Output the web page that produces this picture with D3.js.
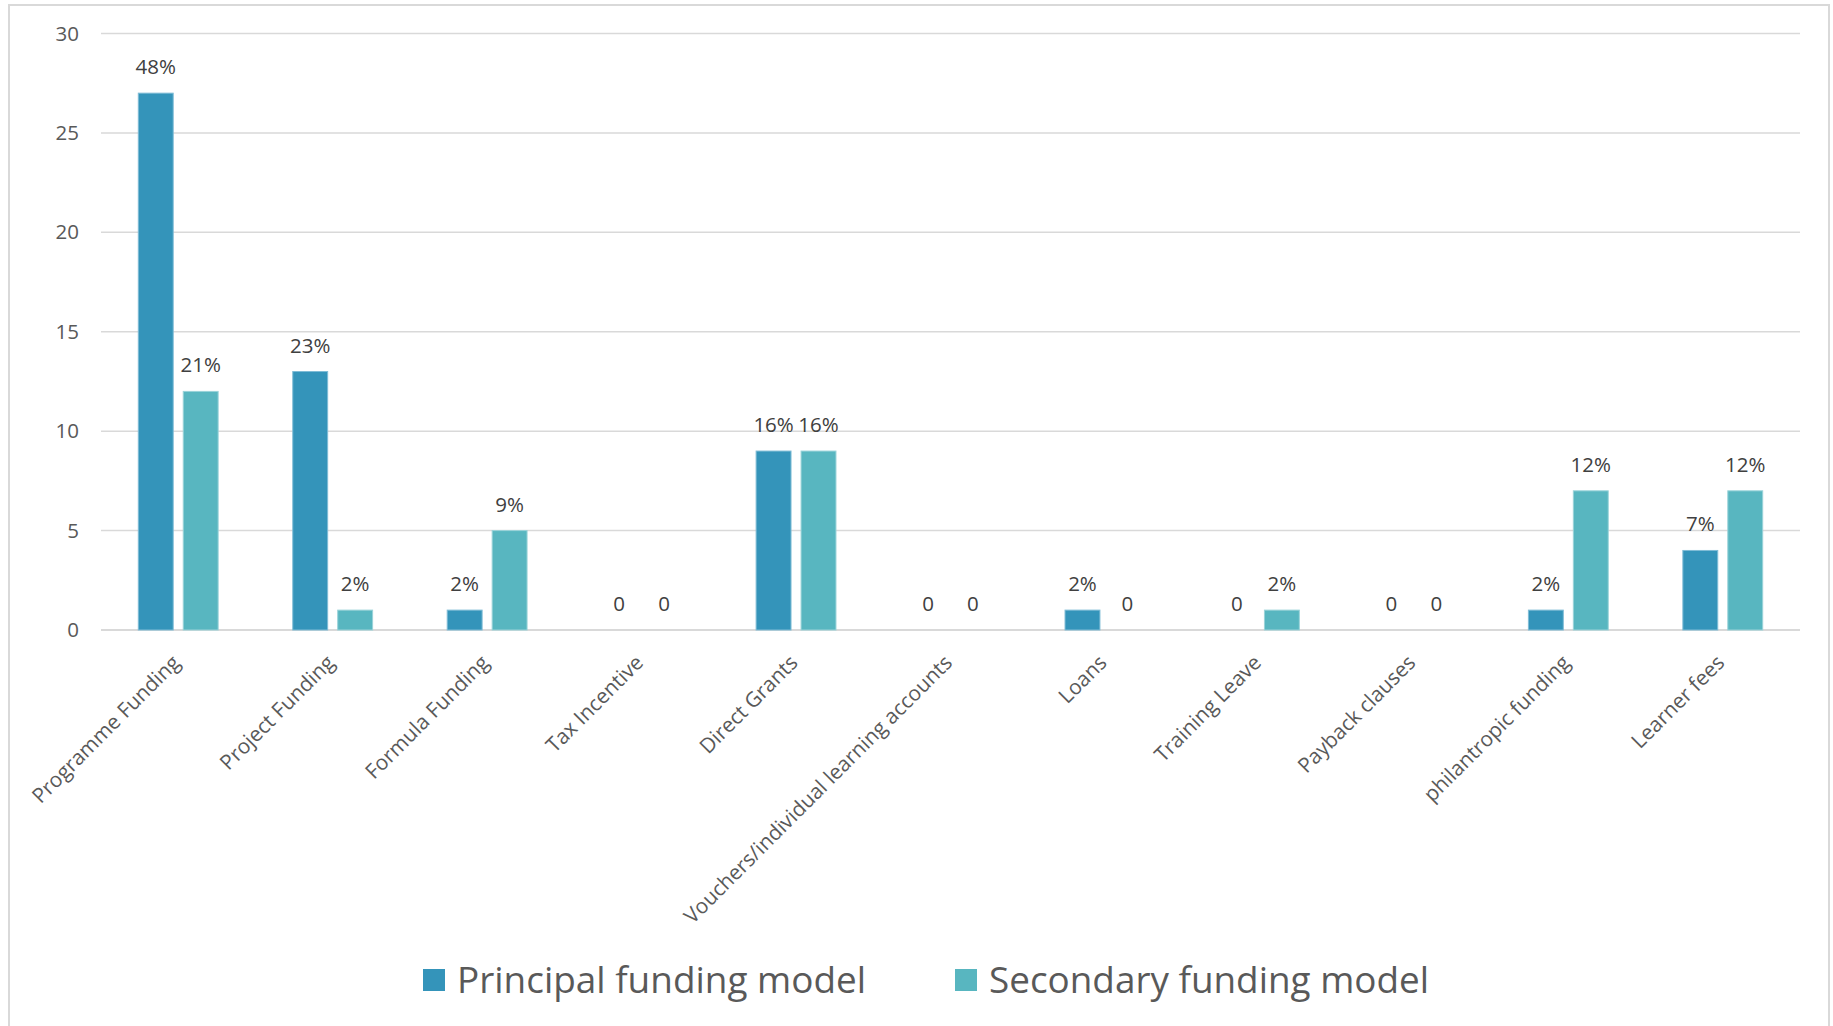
<!DOCTYPE html>
<html><head><meta charset="utf-8">
<script src="https://cdn.jsdelivr.net/npm/d3@7"></script>
<style>body{margin:0;background:#fff}svg{display:block}</style>
</head><body>
<svg id="c" width="1833" height="1026"></svg>
<script>
const categories = ["Programme Funding","Project Funding","Formula Funding","Tax Incentive","Direct Grants","Vouchers/individual learning accounts","Loans","Training Leave","Payback clauses","philantropic funding","Learner fees"];
const principal = [27,13,1,0,9,0,1,0,0,1,4];
const secondary = [12,1,5,0,9,0,0,1,0,7,7];
const principalLabels = ["48%","23%","2%","0","16%","0","2%","0","0","2%","7%"];
const secondaryLabels = ["21%","2%","9%","0","16%","0","0","2%","0","12%","12%"];
const seriesNames = ["Principal funding model","Secondary funding model"];
const yTicks = [0,5,10,15,20,25,30];

const colors = ["#3494BA","#58B6C0"];
const svg = d3.select("#c");
const font = "'Open Sans', sans-serif";

svg.append("rect").attr("x",9).attr("y",5).attr("width",1820).attr("height",1040)
  .attr("fill","none").attr("stroke","#D9D9D9").attr("stroke-width",2);

const L=101,R=1800,T=33.5,B=630;
const x = d3.scaleBand().domain(categories).range([L,R]);
const y = d3.scaleLinear().domain([0,30]).range([B,T]);

const g = svg.append("g");
g.selectAll("line.grid").data(yTicks).join("line")
  .attr("x1",L).attr("x2",R).attr("y1",d=>y(d)).attr("y2",d=>y(d))
  .attr("stroke","#D9D9D9").attr("stroke-width",d=>d===0?2:1.5);

const yAxis = d3.axisLeft(y).tickValues(yTicks).tickSize(0).tickPadding(22);
const ya = svg.append("g").attr("transform",`translate(${L},0)`).call(yAxis);
ya.select(".domain").remove();
ya.selectAll("text").attr("font-family",font).attr("font-size",20.5).attr("fill","#595959");

const bw = x.bandwidth()*0.226, gap = x.bandwidth()*0.065;
const series = [principal, secondary];
const labels = [principalLabels, secondaryLabels];
series.forEach((vals,s)=>{
  const off = s===0 ? -gap/2-bw : gap/2;
  const cx = c=> x(c)+x.bandwidth()/2+off;
  svg.append("g").selectAll("rect").data(categories).join("rect")
    .attr("x",c=>cx(c)).attr("width",bw)
    .attr("y",(c,i)=>y(vals[i])).attr("height",(c,i)=>B-y(vals[i]))
    .attr("fill",colors[s]).attr("stroke", s===0?"#7FBCD6":"#9AD3D9").attr("stroke-width",1);
  svg.append("g").selectAll("text").data(categories).join("text")
    .attr("x",c=>cx(c)+bw/2).attr("y",(c,i)=>y(vals[i])-19)
    .attr("text-anchor","middle").attr("font-family",font).attr("font-size",20.5)
    .attr("fill","#404040").text((c,i)=>labels[s][i]);
});

const xa = svg.append("g").attr("transform",`translate(0,${B})`)
  .call(d3.axisBottom(x).tickSize(0).tickPadding(0));
xa.select(".domain").remove();
xa.selectAll("text").attr("font-family",font).attr("font-size",20.8).attr("fill","#595959")
  .attr("text-anchor","end").attr("dy",0)
  .attr("transform","translate(3,34) rotate(-45)");

const leg = svg.append("g");
const legX = [423,955];
seriesNames.forEach((n,i)=>{
  leg.append("rect").attr("x",legX[i]).attr("y",969).attr("width",22).attr("height",22).attr("fill",colors[i]);
  leg.append("text").attr("x",legX[i]+34).attr("y",993).attr("font-family",font).attr("font-size",37)
    .attr("fill","#595959").attr("textLength", i===0?409:440).attr("lengthAdjust","spacingAndGlyphs").text(n);
});
</script>
</body></html>
